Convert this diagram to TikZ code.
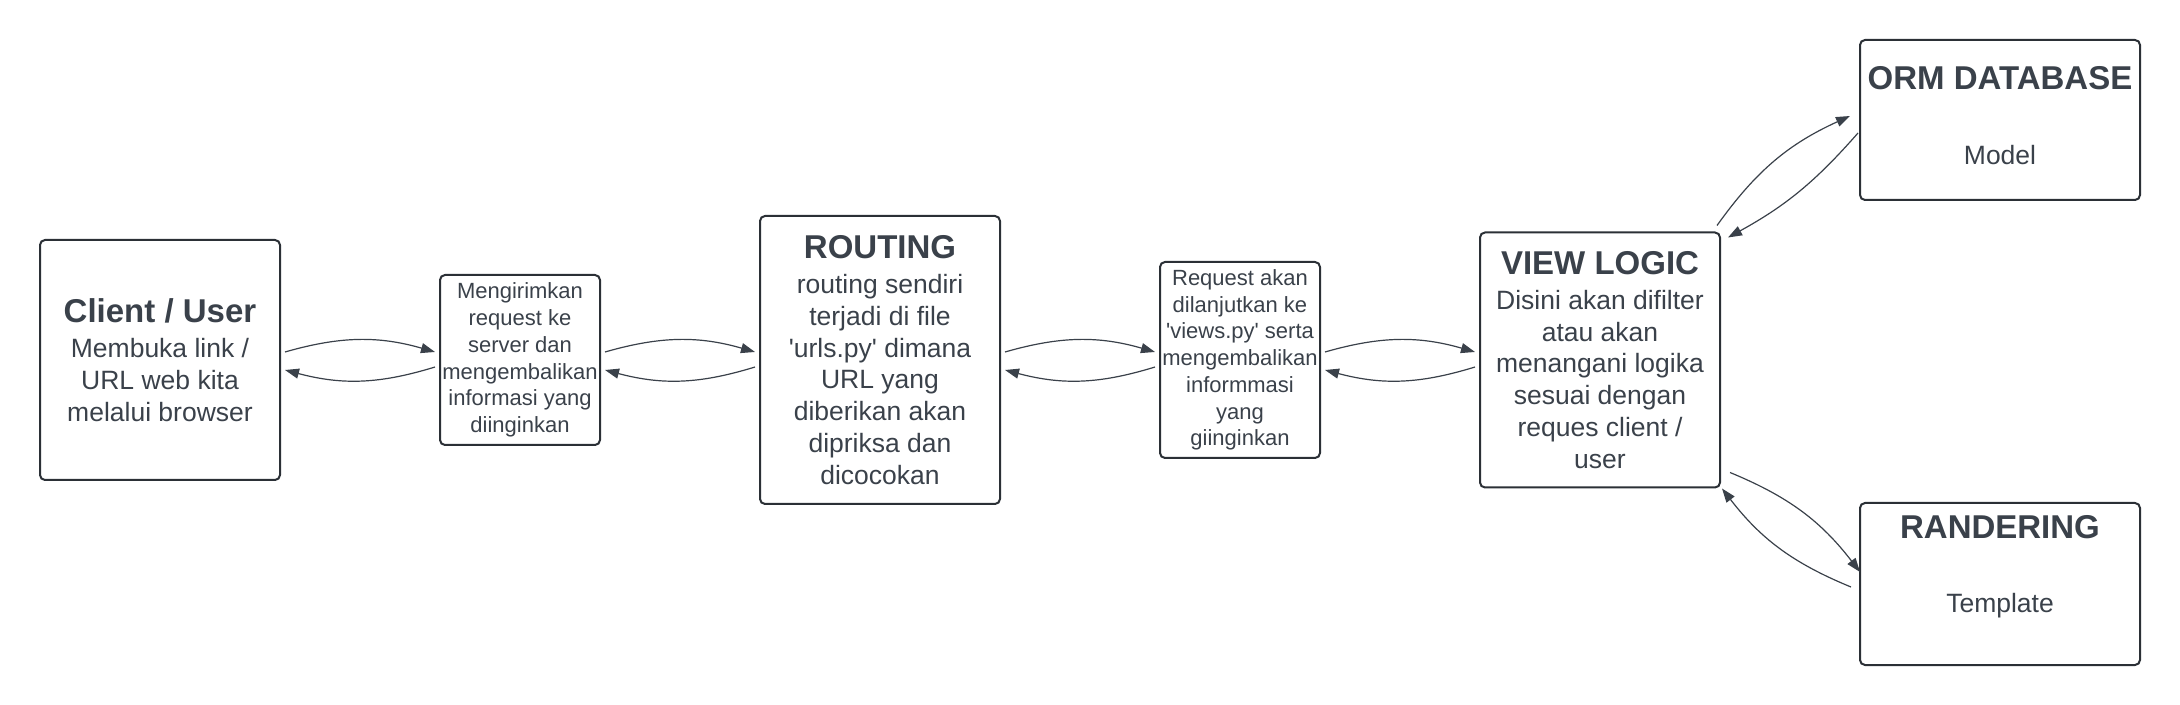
\documentclass[tikz,border=0pt]{standalone}
\usepackage{fontspec}
\setmainfont{Liberation Sans}
\usepackage{tikz}
\usetikzlibrary{positioning,arrows.meta}
\definecolor{ink}{HTML}{3A414A}
\definecolor{frame}{HTML}{2B3036}
\newcommand{\boxtitle}[1]{{\fontsize{16.5pt}{19pt}\selectfont\bfseries #1}}

\begin{document}
\begin{tikzpicture}[x=0.5pt,y=-0.5pt,
        standard/.style={draw=frame,line width=1pt,rounded corners=2.5pt,align=center,text=ink,inner sep=0pt,outer sep=0pt,font=\fontsize{13.25pt}{15.9pt}\selectfont},
        bigbox/.style={standard,minimum width=120pt},
        smallbox/.style={standard,minimum width=80pt,font=\fontsize{11pt}{13.35pt}\selectfont},
        flow/.style={draw=ink,line width=0.6pt,-{Triangle[length=7pt,width=5pt]}}]
        \useasboundingbox (0,0) rectangle (2180,705);
        \node[bigbox, minimum height=120pt] at (160,360) (client) {\boxtitle{Client / User}\\[1.6pt]Membuka link /\\URL web kita\\melalui browser};
        \node[smallbox, minimum height=85pt, right=80pt of client] (send) {Mengirimkan\\request ke\\server dan\\mengembalikan\\informasi yang\\diinginkan};
        \node[bigbox, minimum height=144pt, right=80pt of send] (routing) {\boxtitle{ROUTING}\\[1.6pt]routing sendiri\\terjadi di file\\\textquotesingle urls.py\textquotesingle{} dimana\\URL yang\\diberikan akan\\dipriksa dan\\dicocokan};
        \node[smallbox, minimum height=98pt, right=80pt of routing] (forward) {Request akan\\dilanjutkan ke\\\textquotesingle views.py\textquotesingle{} serta\\mengembalikan\\informmasi\\yang\\giinginkan};
        \node[bigbox, minimum height=127.5pt, right=80pt of forward] (view) {\boxtitle{VIEW LOGIC}\\[1.6pt]Disini akan difilter\\atau akan\\menangani logika\\sesuai dengan\\reques client /\\user};
        \node[standard, minimum width=140pt, minimum height=80pt, text depth=4.5pt] at (2000,120) (orm) {\boxtitle{ORM DATABASE}\\[21.6pt]Model};
        \node[standard, minimum width=140pt, minimum height=81pt, text depth=19.8pt] at (2000,584) (render) {\boxtitle{RANDERING}\\[21pt]Template};
        \draw[flow] ([shift={(5,-8)}]client.east) to[bend left=16] ([shift={(-5,-8)}]send.west);
        \draw[flow] ([shift={(-5,7)}]send.west) to[bend left=16] ([shift={(5,10)}]client.east);
        \draw[flow] ([shift={(5,-8)}]send.east) to[bend left=16] ([shift={(-5,-8)}]routing.west);
        \draw[flow] ([shift={(-5,7)}]routing.west) to[bend left=16] ([shift={(5,10)}]send.east);
        \draw[flow] ([shift={(5,-8)}]routing.east) to[bend left=16] ([shift={(-5,-8)}]forward.west);
        \draw[flow] ([shift={(-5,7)}]forward.west) to[bend left=16] ([shift={(5,10)}]routing.east);
        \draw[flow] ([shift={(5,-8)}]forward.east) to[bend left=16] ([shift={(-5,-8)}]view.west);
        \draw[flow] ([shift={(-5,7)}]view.west) to[bend left=16] ([shift={(5,10)}]forward.east);
        \draw[flow] ([shift={(-3,-7)}]view.north east) to[bend left=15] ([shift={(-10,-4)}]orm.west);
        \draw[flow] ([shift={(-2,13)}]orm.west) to[bend left=10] ([shift={(8,5)}]view.north east);
        \draw[flow] ([shift={(10,-15)}]view.south east) to[bend left=15] ([shift={(0,-12)}]render.west);
        \draw[flow] ([shift={(-9,3)}]render.west) to[bend left=15] ([shift={(2,1)}]view.south east);
\end{tikzpicture}
\end{document}
